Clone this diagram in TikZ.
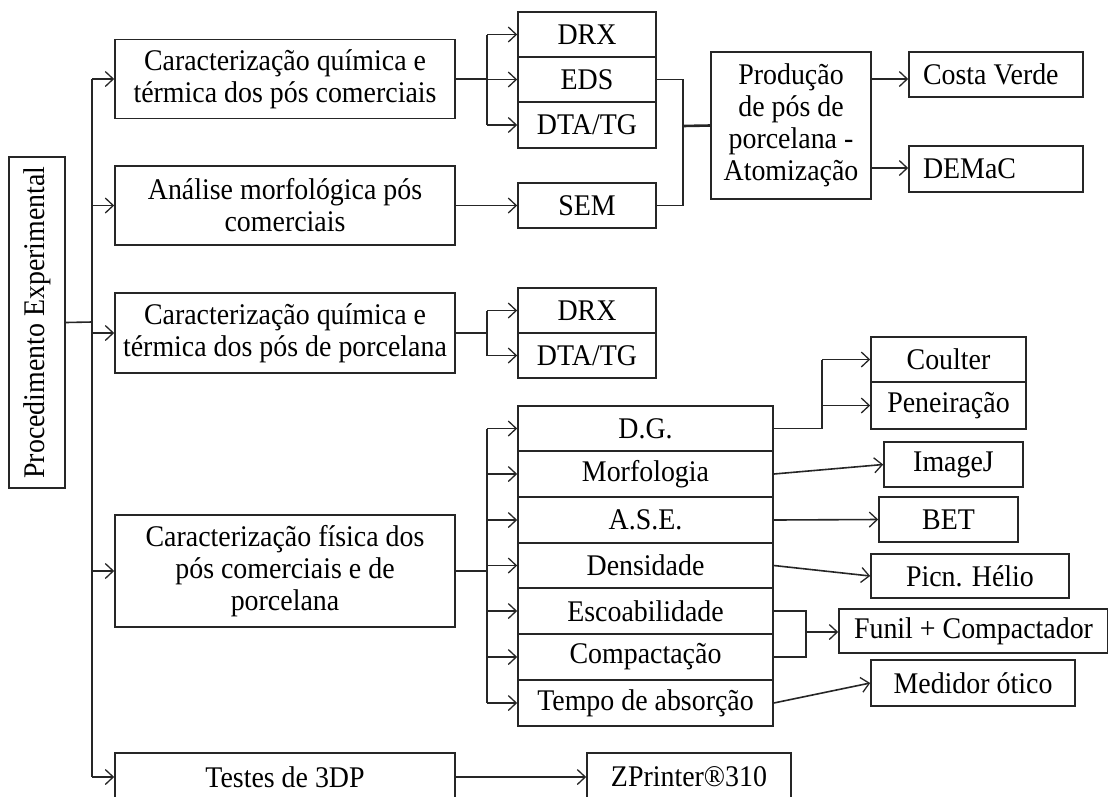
\documentclass[tikz,border=0pt]{standalone}
\usepackage{fontspec}
\setmainfont{Liberation Serif}[FakeStretch=0.93]
\usetikzlibrary{arrows.meta}
\tikzset{
  box/.style={draw=black!85, line width=1.6pt, inner sep=0pt, align=center,
    font=\fontsize{30}{32}\selectfont},
  arr/.style={line width=1.6pt, draw=black!85, -{Straight Barb[length=8pt,width=15pt,line width=1.3pt]}},
  ln/.style={line width=1.6pt, draw=black!85},
}
\begin{document}
\begin{tikzpicture}[x=1pt,y=-1pt]
\clip (0,0) rectangle (1108,796);
\useasboundingbox (0,0) rectangle (1108,796);

% root
\node[box, rotate=90, minimum width=331, minimum height=56] (proc) at (37,322.5) {Procedimento Experimental};

% first level
\node[box, minimum width=340, minimum height=79] (c1) at (285,79) {Caracterização química e\\térmica dos pós comerciais};
\node[box, minimum width=340, minimum height=79] (c2) at (285,205.5) {Análise morfológica pós\\comerciais};
\node[box, minimum width=340, minimum height=80] (c3) at (285,333) {Caracterização química e\\térmica dos pós de porcelana};
\node[box, minimum width=340, minimum height=112] (c4) at (285,571) {Caracterização física dos\\pós comerciais e de\\porcelana};
\node[box, minimum width=340, minimum height=48] (c5) at (285,777) {Testes de 3DP};

% trunk
\coordinate (t0) at (92,322);
\coordinate (ttop) at (92,79);
\coordinate (tbot) at (92,777);
\draw[ln] (proc.south) -- (t0);
\draw[ln] (ttop) -- (tbot);
\foreach \n in {c1,c2,c3,c4,c5}{
  \draw[arr] (ttop |- \n.west) -- (\n.west);
}

% commercial powders: chemical and thermal
\node[box, minimum width=138, minimum height=45] (drxa) at (587,34.5) {DRX};
\node[box, minimum width=138, minimum height=45] (edsa) at (587,79.5) {EDS};
\node[box, minimum width=138, minimum height=46] (dtaa) at (587,125) {DTA/TG};
\coordinate (h1) at (487,79);
\draw[ln] (c1.east) -- (h1);
\draw[ln] (h1 |- drxa.west) -- (h1 |- dtaa.west);
\foreach \n in {drxa,edsa,dtaa}{
  \draw[arr] (h1 |- \n.west) -- (\n.west);
}

% morphology
\node[box, minimum width=138, minimum height=45] (sem) at (587,205.5) {SEM};
\draw[arr] (c2.east) -- (sem.west);

% porcelain powder production
\node[box, minimum width=160, minimum height=147] (prod) at (791,125.5) {Produção\\de pós de\\porcelana -\\Atomização};
\coordinate (j1) at (683,126);
\draw[ln] (edsa.east) -- (j1 |- edsa.east) -- (j1 |- sem.east) -- (sem.east);
\draw[ln, line width=2.6pt] (j1) -- (prod.west);

\node[box, minimum width=174, minimum height=45] (costa) at (996,74.5) {\makebox[146pt][l]{Costa Verde}};
\node[box, minimum width=174, minimum height=46] (demac) at (996,169) {\makebox[146pt][l]{DEMaC}};
\coordinate (pc) at ([yshift=-4.5pt]costa.west);
\draw[arr] (prod.east |- pc) -- (pc);
\coordinate (pd) at ([yshift=1pt]demac.west);
\draw[arr] (prod.east |- pd) -- (pd);

% porcelain powders: chemical and thermal
\node[box, minimum width=138, minimum height=45] (drxb) at (587,310.5) {DRX};
\node[box, minimum width=138, minimum height=45] (dtab) at (587,355.5) {DTA/TG};
\coordinate (h3) at (487,333);
\draw[ln] (c3.east) -- (h3);
\draw[ln] (h3 |- drxb.west) -- (h3 |- dtab.west);
\draw[arr] (h3 |- drxb.west) -- (drxb.west);
\draw[arr] (h3 |- dtab.west) -- (dtab.west);

% physical characterisation
\node[box, minimum width=255, minimum height=45] (dg) at (645.5,428.5) {D.G.};
\node[box, minimum width=255, minimum height=46] (morf) at (645.5,474) {Morfologia};
\node[box, minimum width=255, minimum height=46] (ase) at (645.5,520) {A.S.E.};
\node[box, minimum width=255, minimum height=45] (dens) at (645.5,565.5) {Densidade};
\node[box, minimum width=255, minimum height=46] (esco) at (645.5,611) {Escoabilidade};
\node[box, minimum width=255, minimum height=46] (comp) at (645.5,657) {Compactação};
\node[box, minimum width=255, minimum height=46] (tempo) at (645.5,703) {Tempo de absorção};
\coordinate (h4) at (487,571);
\draw[ln] (c4.east) -- (h4);
\draw[ln] (h4 |- dg.west) -- (h4 |- tempo.west);
\foreach \n in {dg,morf,ase,dens,esco,comp,tempo}{
  \draw[arr] (h4 |- \n.west) -- (\n.west);
}

% methods
\node[box, minimum width=155, minimum height=45] (coul) at (948.5,359.5) {Coulter};
\node[box, minimum width=155, minimum height=47] (pen) at (948.5,405.5) {Peneiração};
\node[box, minimum width=139, minimum height=45] (imgj) at (953.5,464.5) {ImageJ};
\node[box, minimum width=139, minimum height=45] (bet) at (948.5,519.5) {BET};
\node[box, minimum width=198, minimum height=44] (picn) at (970,576) {Picn. Hélio};
\node[box, minimum width=269, minimum height=44] (funil) at (973.5,631) {Funil + Compactador};
\node[box, minimum width=204, minimum height=46] (med) at (973,683) {Medidor ótico};

\coordinate (h5) at (822,428.5);
\draw[ln] (dg.east) -- (h5);
\draw[ln] (h5) -- (h5 |- coul.west);
\draw[arr] (h5 |- coul.west) -- (coul.west);
\draw[arr] (h5 |- pen.west) -- (pen.west);
\draw[arr] (morf.east) -- (imgj.west);
\draw[arr] (ase.east) -- (bet.west);
\draw[arr] (dens.east) -- (picn.west);
\coordinate (h6) at (806,632);
\draw[ln] (esco.east) -- (h6 |- esco.east) -- (h6 |- comp.east) -- (comp.east);
\draw[arr] (h6) -- (h6 -| funil.west);
\draw[arr] (tempo.east) -- (med.west);

% 3DP
\node[box, minimum width=204, minimum height=48] (zp) at (689,777) {ZPrinter®310};
\draw[arr] (c5.east) -- (zp.west);
\end{tikzpicture}
\end{document}
